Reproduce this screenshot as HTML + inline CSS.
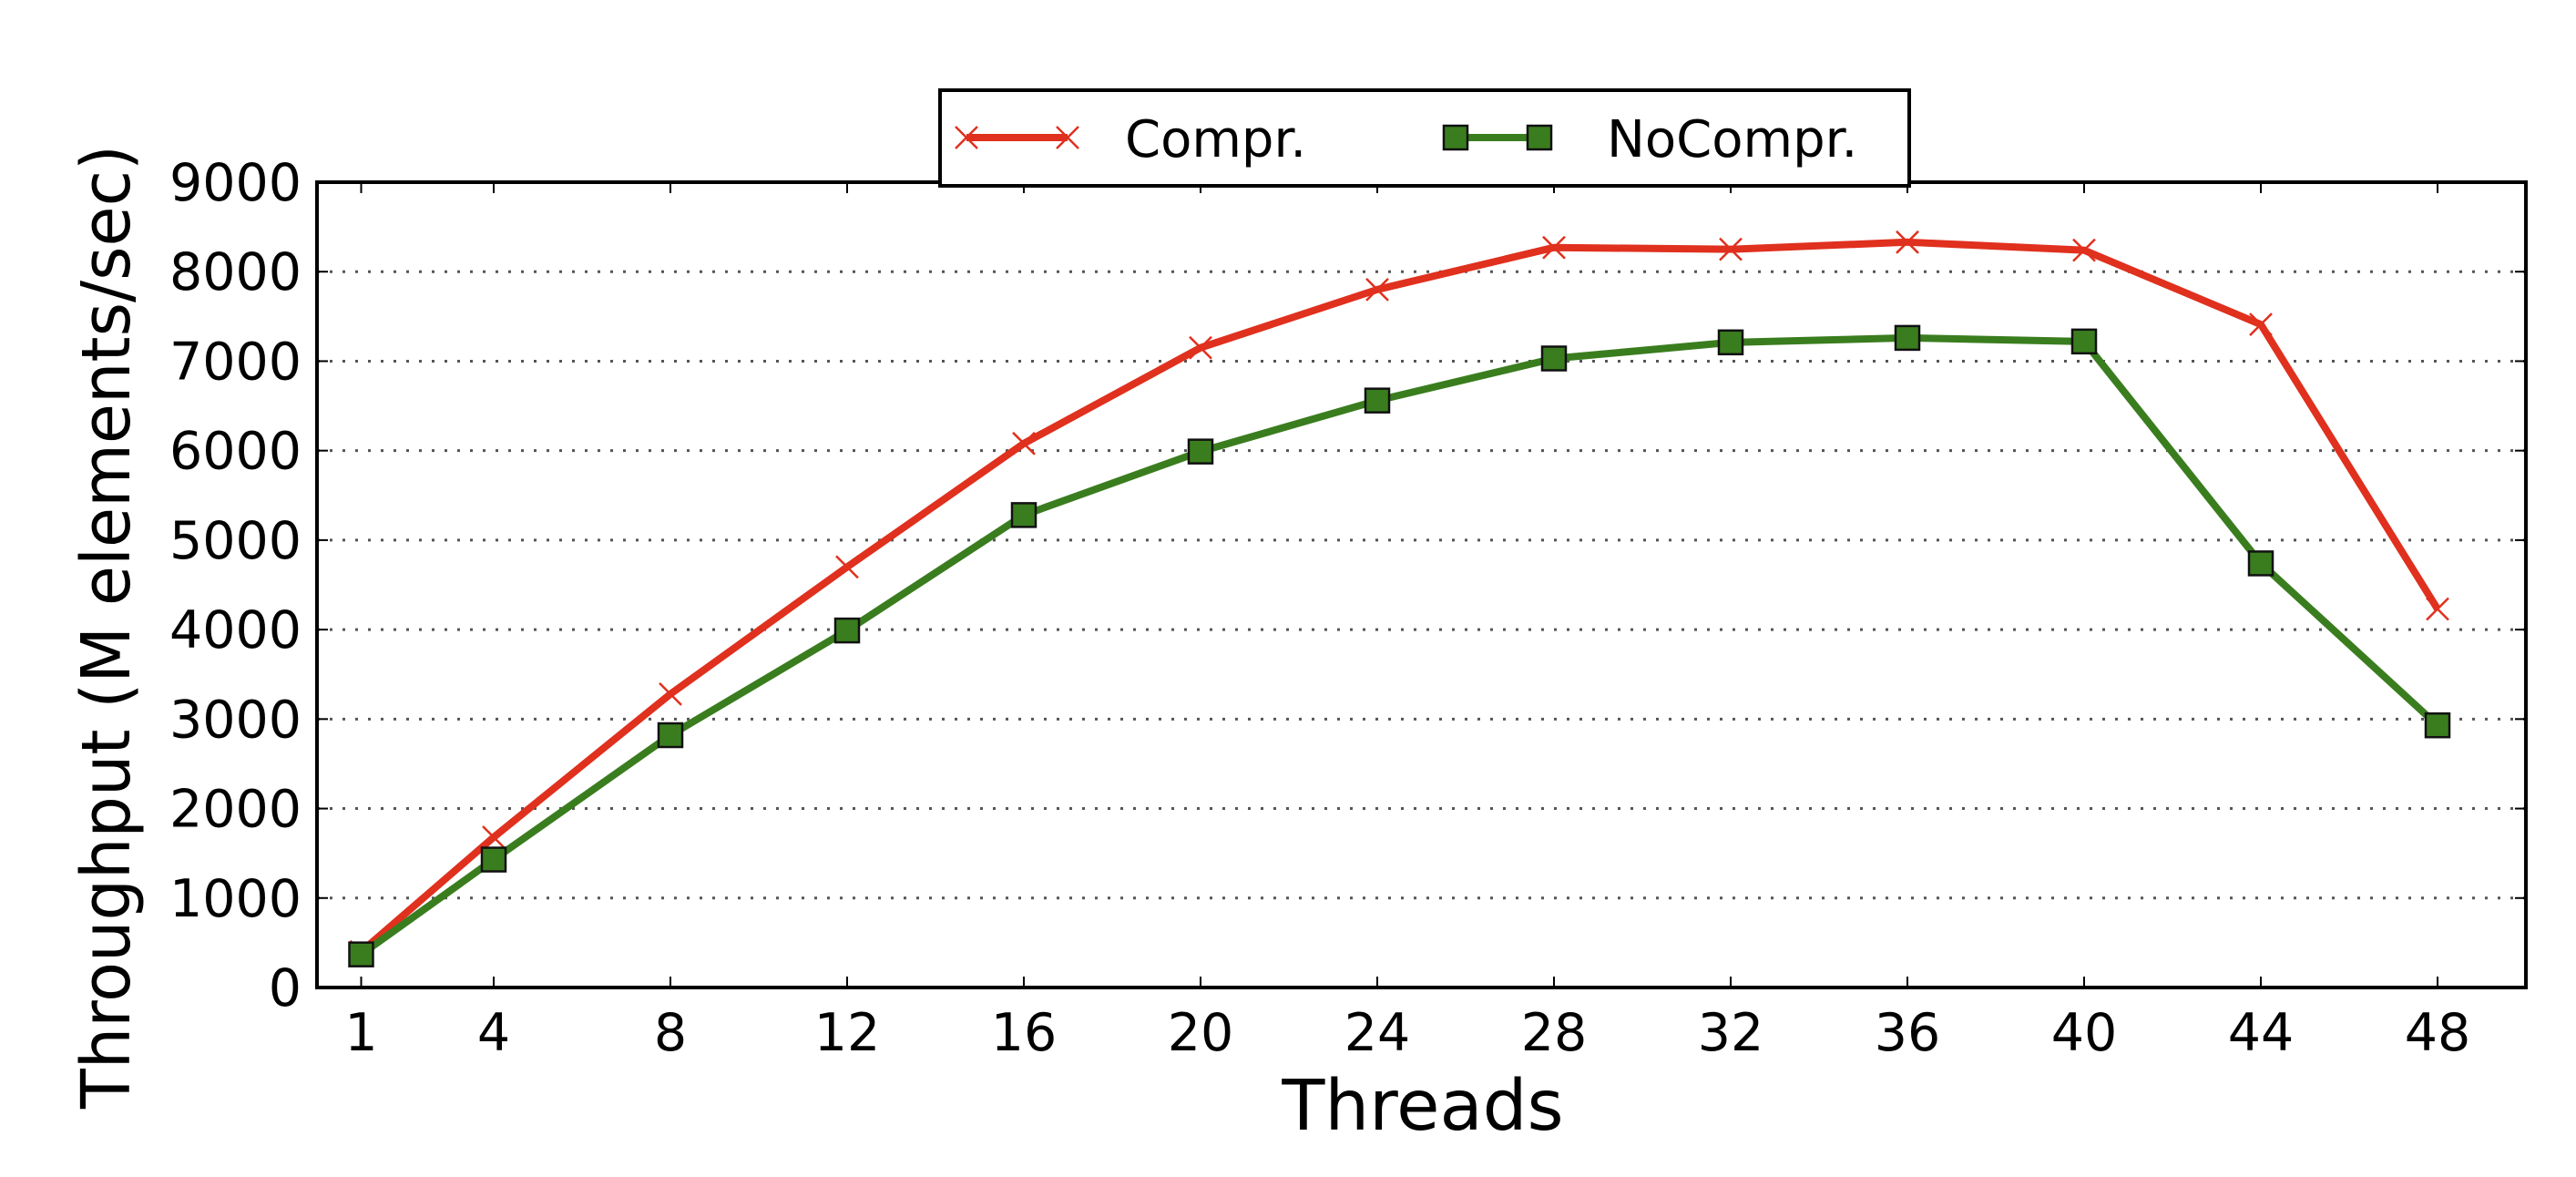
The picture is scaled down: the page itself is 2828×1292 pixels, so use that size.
<!DOCTYPE html>
<html><head><meta charset="utf-8"><style>
html,body{margin:0;padding:0;background:#fff;overflow:hidden;}
svg{display:block;font-family:"DejaVu Sans","Liberation Sans",sans-serif;}
</style></head><body>
<svg id="chart" width="2828" height="1292" viewBox="0 0 2828 1292">
<g id="grid"></g>
<g id="ticks"></g>
<g id="series"></g>
<rect x="348" y="200" width="2425" height="884" fill="none" stroke="#000" stroke-width="4"/>
<text x="1562" y="1240" font-size="77" text-anchor="middle">Threads</text>
<text transform="translate(142,688) rotate(-90)" font-size="74" text-anchor="middle" textLength="1058" lengthAdjust="spacingAndGlyphs">Throughput (M elements/sec)</text>
<g>
<rect x="1032" y="99" width="1064" height="105" fill="#fff" stroke="#000" stroke-width="4"/>
<g>
<line x1="1061" y1="151" x2="1172" y2="151" stroke="#e0301e" stroke-width="8"/>
<path d="M1049,139 L1073,163 M1049,163 L1073,139 M1160,139 L1184,163 M1160,163 L1184,139" stroke="#e0301e" stroke-width="2.5"/>
<text x="1235" y="172" font-size="56">Compr.</text>
</g>
<g>
<line x1="1598" y1="151" x2="1690" y2="151" stroke="#3a7d1f" stroke-width="8"/>
<rect x="1585" y="138" width="26" height="26" fill="#3a7d1f" stroke="#111" stroke-width="2.5"/>
<rect x="1677" y="138" width="26" height="26" fill="#3a7d1f" stroke="#111" stroke-width="2.5"/>
<text x="1764" y="172" font-size="56">NoCompr.</text>
</g>
</g>
</svg>
<script>
const threads=[1,4,8,12,16,20,24,28,32,36,40,44,48];
const compr=[400,1680,3280,4700,6080,7150,7800,8270,8250,8330,8240,7410,4230];
const nocompr=[370,1430,2820,3990,5280,5990,6560,7030,7210,7260,7220,4740,2930];
const yTicks=[0,1000,2000,3000,4000,5000,6000,7000,8000,9000];
const xTickLabels=["1","4","8","12","16","20","24","28","32","36","40","44","48"];
const NS="http://www.w3.org/2000/svg";
function X(v){return 348+(v-0)/50*2425;}
function Y(v){return 1084-v/9000*884;}
function mk(tag,attrs,parent){const e=document.createElementNS(NS,tag);for(const k in attrs)e.setAttribute(k,attrs[k]);parent.appendChild(e);return e;}
const grid=document.getElementById('grid'),ticks=document.getElementById('ticks'),series=document.getElementById('series');
yTicks.forEach(v=>{
  if(v>0&&v<9000){const g=mk('line',{x1:348,x2:2773,y1:Y(v),y2:Y(v),stroke:'#555','stroke-width':3,'stroke-dasharray':'3 11'},grid);
  
  }
  mk('line',{x1:348,x2:360,y1:Y(v),y2:Y(v),stroke:'#000','stroke-width':2},ticks);
  mk('line',{x1:2761,x2:2773,y1:Y(v),y2:Y(v),stroke:'#000','stroke-width':2},ticks);
  const t=mk('text',{x:331,y:Y(v)+20,'font-size':57,'text-anchor':'end'},ticks);
  t.textContent=v;
  
  
});
threads.forEach((v,i)=>{
  mk('line',{x1:X(v),x2:X(v),y1:1084,y2:1072,stroke:'#000','stroke-width':2},ticks);
  mk('line',{x1:X(v),x2:X(v),y1:200,y2:212,stroke:'#000','stroke-width':2},ticks);
  const t=mk('text',{x:X(v),y:1153,'font-size':57,'text-anchor':'middle'},ticks);
  t.textContent=xTickLabels[i];
  
  
});
function pts(arr){return threads.map((t,i)=>X(t)+','+Y(arr[i])).join(' ');}
const l1=mk('polyline',{points:pts(compr),fill:'none',stroke:'#e0301e','stroke-width':8,'stroke-linejoin':'round'},series);


compr.forEach((v,i)=>{
  const x=X(threads[i]),y=Y(v),s=12;
  const p=mk('path',{d:`M${x-s},${y-s}L${x+s},${y+s}M${x-s},${y+s}L${x+s},${y-s}`,stroke:'#e0301e','stroke-width':2.5},series);
  
  
});
const l2=mk('polyline',{points:pts(nocompr),fill:'none',stroke:'#3a7d1f','stroke-width':8,'stroke-linejoin':'round'},series);


nocompr.forEach((v,i)=>{
  const x=X(threads[i]),y=Y(v);
  const r=mk('rect',{x:x-13,y:y-13,width:26,height:26,fill:'#3a7d1f',stroke:'#111','stroke-width':2.5},series);
  
  
});
</script>
</body></html>
